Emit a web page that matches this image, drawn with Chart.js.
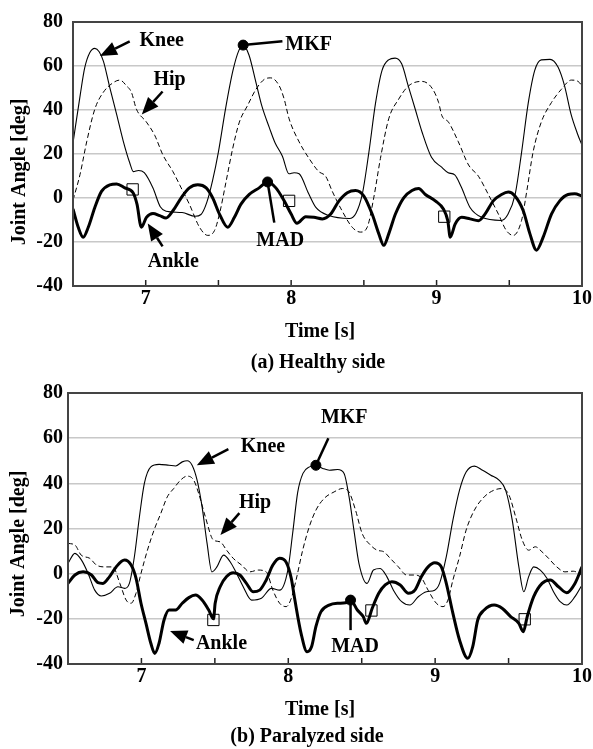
<!DOCTYPE html>
<html>
<head>
<meta charset="utf-8">
<script src="https://cdn.jsdelivr.net/npm/chart.js@4.4.1/dist/chart.umd.min.js"></script>
<style>
  html, body { margin: 0; padding: 0; background: #fff; }
  .box { position: absolute; left: 0; width: 593px; }
  #boxA { top: 0; height: 376px; }
  #boxB { top: 376px; height: 373px; }
</style>
</head>
<body>
<div class="box" id="boxA"><canvas id="chartA"></canvas></div>
<div class="box" id="boxB"><canvas id="chartB"></canvas></div>
<script>
// time [s], angle [deg] pairs
const aKnee = [[6.5,25],[6.55,47],[6.58,59],[6.615,66],[6.65,68],[6.68,66.5],[6.71,62],[6.75,51],[6.8,38],[6.845,26],[6.89,16],[6.915,12],[6.95,12.5],[6.99,11.5],[7.05,4.5],[7.1,-4],[7.14,-6],[7.25,-6.6],[7.34,-8.3],[7.38,-7.5],[7.42,-2],[7.46,8],[7.5,21],[7.55,41],[7.6,58],[7.64,67],[7.67,69.5],[7.71,65],[7.76,52],[7.8,41.5],[7.85,32],[7.89,25],[7.94,19],[7.985,11],[8.02,11.5],[8.055,11],[8.12,2],[8.17,-4.3],[8.26,-8],[8.4,-9.3],[8.445,-7],[8.49,2],[8.535,21],[8.58,43],[8.625,58],[8.67,62.8],[8.715,63.6],[8.76,61],[8.805,51],[8.855,40],[8.9,30],[8.965,18.5],[9.035,14],[9.08,11.5],[9.125,10.5],[9.17,5],[9.23,-4.3],[9.31,-8.8],[9.445,-10.2],[9.49,-7.5],[9.54,1.5],[9.585,21],[9.63,43],[9.675,58],[9.72,62.8],[9.78,63],[9.835,59.5],[9.88,51],[9.925,38],[9.97,29],[10,24]];
const aHip = [[6.5,-1],[6.548,10.6],[6.594,25.5],[6.65,40.4],[6.708,48],[6.776,52.4],[6.822,53.6],[6.868,51],[6.902,48],[6.936,40.4],[7.005,34.5],[7.062,28.5],[7.118,19.6],[7.187,12],[7.244,4.6],[7.3,-2.8],[7.37,-13.3],[7.427,-17],[7.473,-14.8],[7.507,-7.3],[7.553,7.6],[7.598,22.5],[7.644,34.5],[7.7,42],[7.758,49.4],[7.815,53.9],[7.86,54.6],[7.918,51],[7.952,45],[7.986,36],[8.055,25.5],[8.123,18],[8.19,12],[8.237,9.9],[8.283,3],[8.35,-5.8],[8.42,-13.3],[8.477,-15.5],[8.523,-13.3],[8.568,0.1],[8.614,18],[8.671,36],[8.74,45],[8.808,51],[8.9,53],[8.968,50],[9.014,43.4],[9.036,37.5],[9.082,34.5],[9.15,25.5],[9.22,15],[9.288,9.9],[9.356,1.6],[9.425,-7.3],[9.48,-14.8],[9.527,-17],[9.584,-10.3],[9.62,3],[9.664,21],[9.72,34.5],[9.79,43.4],[9.858,49.4],[9.927,53.6],[9.973,53],[10,51]];
const aAnkle = [[6.5,-5],[6.536,-13.3],[6.57,-17.8],[6.605,-13.3],[6.65,-4.3],[6.696,3],[6.753,6],[6.8,6.4],[6.856,4.6],[6.913,2.4],[6.94,-2.8],[6.97,-13.3],[7.005,-8.8],[7.05,-7],[7.096,-8],[7.14,-9.1],[7.187,-5.8],[7.244,0.1],[7.3,4.6],[7.358,6],[7.416,4.6],[7.46,0.1],[7.507,-7.3],[7.564,-13.3],[7.61,-8.8],[7.655,-2.8],[7.712,1.6],[7.78,4.6],[7.838,7.3],[7.895,4.6],[7.952,-1.3],[8.0,-7.3],[8.04,-11.5],[8.1,-8.5],[8.157,-8.8],[8.215,-9.5],[8.272,-7.3],[8.329,-1.3],[8.386,2.4],[8.443,3.4],[8.5,0.9],[8.557,-7.3],[8.603,-16.3],[8.637,-21.5],[8.671,-16.3],[8.717,-7.3],[8.774,0.1],[8.831,3.4],[8.877,4.3],[8.923,1.6],[8.991,-1.3],[9.048,-5.1],[9.077,-10.3],[9.094,-17.8],[9.128,-11.8],[9.173,-8.8],[9.23,-9.5],[9.288,-10.3],[9.333,-7.3],[9.39,-1.3],[9.447,1.6],[9.493,2.7],[9.539,0.9],[9.596,-5.8],[9.642,-16.3],[9.687,-23.7],[9.733,-17.8],[9.79,-7.3],[9.847,-1.3],[9.904,1.6],[9.95,1.9],[10,0.9]];
const aSquares = [[6.91,3.9],[7.986,-1.3],[9.053,-8.5]];
const aPeaks = [[7.67,69.5],[7.838,7.3]]; // MKF, MAD

const bKnee = [[6.5,4.6],[6.547,9],[6.592,6],[6.637,0.1],[6.682,-7.3],[6.727,-9.9],[6.783,-8.7],[6.84,-5.8],[6.885,-6.5],[6.918,-4.3],[6.952,7.5],[6.986,25],[7.02,40],[7.064,47.3],[7.12,48.4],[7.188,48],[7.233,47.7],[7.278,49.5],[7.312,50],[7.345,48],[7.379,41.4],[7.413,29.6],[7.447,13.4],[7.48,0.8],[7.514,3],[7.559,8.2],[7.604,5.3],[7.648,0.1],[7.693,-5.8],[7.75,-11.7],[7.817,-10.9],[7.885,-6.5],[7.941,-7.3],[7.997,1.6],[8.03,18],[8.064,36],[8.1,44.4],[8.145,47.3],[8.188,48],[8.235,46.6],[8.28,45.8],[8.336,46.1],[8.38,44.4],[8.414,34],[8.447,19.3],[8.481,4.6],[8.536,-4.3],[8.58,1.6],[8.626,2.3],[8.671,-1.3],[8.716,-7.3],[8.772,-12.4],[8.828,-13.9],[8.885,-10.2],[8.941,-8],[8.997,-7.3],[9.03,-4.3],[9.076,7.5],[9.121,23.7],[9.166,37],[9.211,45],[9.267,47.6],[9.323,45.8],[9.379,43.6],[9.435,41.4],[9.48,37],[9.525,23.7],[9.57,3],[9.604,-8],[9.637,-1.3],[9.671,3],[9.716,1.6],[9.761,-2],[9.806,-8],[9.851,-12.4],[9.896,-13.9],[9.952,-10.2],[10,-5]];
const bHip = [[6.5,13.4],[6.547,12.7],[6.59,8.2],[6.648,6.8],[6.694,3.8],[6.75,3],[6.805,3],[6.853,-4.3],[6.896,-11.7],[6.93,-13.1],[6.963,-8.7],[6.997,0.1],[7.041,10.4],[7.086,19.3],[7.132,26.7],[7.176,34],[7.22,37.7],[7.266,41.4],[7.311,43.2],[7.356,41.4],[7.39,35.5],[7.435,25.2],[7.49,14.9],[7.536,14.1],[7.58,10.4],[7.625,6.8],[7.682,3.8],[7.738,0.8],[7.795,1.6],[7.85,0.8],[7.895,-7.3],[7.941,-13.1],[7.986,-14.6],[8.02,-11],[8.053,-2.8],[8.098,10.4],[8.143,20.8],[8.188,28.1],[8.244,33.3],[8.312,36.2],[8.368,37.7],[8.413,36.2],[8.458,28.1],[8.503,17.8],[8.559,12.7],[8.605,10.4],[8.65,9.7],[8.694,6.8],[8.75,3],[8.806,-0.6],[8.862,-0.6],[8.908,-2],[8.952,-7.3],[9.008,-13.1],[9.054,-14.6],[9.087,-11.7],[9.121,-2.8],[9.166,7.5],[9.211,19.3],[9.267,28.1],[9.334,34],[9.402,37],[9.458,37.7],[9.503,34.8],[9.548,25.2],[9.593,14.9],[9.637,10.4],[9.682,11.9],[9.727,9.7],[9.772,6.8],[9.828,3],[9.884,0.8],[9.94,1.1],[10,-0.6]];
const bAnkle = [[6.5,-4.3],[6.547,-0.6],[6.603,0.8],[6.66,-0.6],[6.704,-4],[6.738,-4.3],[6.783,-1.3],[6.828,3],[6.885,6],[6.93,3.8],[6.963,-2],[6.997,-13.1],[7.031,-22],[7.064,-30.8],[7.091,-35.3],[7.12,-30.8],[7.154,-20.5],[7.188,-16.1],[7.233,-16.1],[7.278,-13.1],[7.323,-10.6],[7.368,-9.5],[7.413,-11.7],[7.458,-16.1],[7.491,-20],[7.502,-13.1],[7.536,-5.8],[7.58,-1.3],[7.625,0.4],[7.67,-0.6],[7.715,-4.3],[7.76,-8],[7.805,-7.3],[7.85,-2.8],[7.895,3.8],[7.941,6.8],[7.986,5],[8.02,-2],[8.045,-11.7],[8.087,-26.4],[8.128,-34.6],[8.159,-32.3],[8.188,-23.5],[8.222,-16.9],[8.278,-13.9],[8.334,-13.1],[8.39,-12.9],[8.424,-11.7],[8.47,-16.1],[8.51,-19],[8.532,-22],[8.571,-15.4],[8.616,-8.7],[8.66,-5],[8.705,-3.6],[8.762,-5],[8.818,-8.7],[8.862,-7.3],[8.907,-1.3],[8.952,3],[8.997,4.8],[9.042,3],[9.076,-4.3],[9.121,-17.6],[9.166,-29.4],[9.222,-37.5],[9.256,-32.3],[9.29,-20.5],[9.334,-16.1],[9.402,-13.9],[9.458,-15.4],[9.514,-19],[9.57,-22],[9.6,-25.7],[9.627,-19],[9.671,-10.2],[9.728,-4.3],[9.784,-2.8],[9.84,-5.8],[9.896,-8.4],[9.952,-4.3],[10,3]];
const bSquares = [[7.49,-20.5],[8.566,-16.3],[9.61,-20.2]];
const bPeaks = [[8.188,48],[8.424,-11.7]]; // MKF, MAD

const xTicks = [6.5, 7, 7.5, 8, 8.5, 9, 9.5, 10];
const yTicks = [-40, -20, 0, 20, 40, 60, 80];

const FONT = '"Liberation Serif", "Times New Roman", serif';
Chart.defaults.font.family = FONT;
Chart.defaults.color = '#000';

function pts(arr) {
    return arr.map(p => ({ x: p[0], y: p[1] }));
}

function arrow(ctx, x0, y0, x1, y1) {
    const ang = Math.atan2(y1 - y0, x1 - x0);
    const head = 17, half = 7;
    const bx = x1 - head * Math.cos(ang), by = y1 - head * Math.sin(ang);
    ctx.lineWidth = 2.5;
    ctx.beginPath();
    ctx.moveTo(x0, y0);
    ctx.lineTo(bx, by);
    ctx.stroke();
    ctx.beginPath();
    ctx.moveTo(x1, y1);
    ctx.lineTo(bx + half * Math.sin(ang), by - half * Math.cos(ang));
    ctx.lineTo(bx - half * Math.sin(ang), by + half * Math.cos(ang));
    ctx.closePath();
    ctx.fill();
}

// box, inner ticks, arrows, labels, titles
const notes = {
    id: 'notes',
    afterDatasetsDraw(chart, args, opts) {
        const { ctx, chartArea: a, scales: { x, y } } = chart;
        ctx.save();
        ctx.strokeStyle = '#222';
        ctx.fillStyle = '#000';
        ctx.lineWidth = 1.5;
        xTicks.forEach(t => {
            const px = x.getPixelForValue(t);
            ctx.beginPath();
            ctx.moveTo(px, a.bottom);
            ctx.lineTo(px, a.bottom - 6);
            ctx.stroke();
        });
        ctx.strokeStyle = '#444';
        ctx.lineWidth = 2;
        ctx.strokeRect(a.left, a.top, a.right - a.left, a.bottom - a.top);

        ctx.strokeStyle = '#000';
        ctx.font = 'bold 20px ' + FONT;
        ctx.textAlign = 'center';
        ctx.textBaseline = 'middle';
        opts.arrows.forEach(n => {
            arrow(ctx, x.getPixelForValue(n.from[0]), y.getPixelForValue(n.from[1]),
                x.getPixelForValue(n.to[0]), y.getPixelForValue(n.to[1]));
            ctx.fillText(n.label, x.getPixelForValue(n.text[0]), y.getPixelForValue(n.text[1]));
        });
        opts.pins.forEach(n => {
            const d = opts.peaks[n.peak];
            ctx.lineWidth = 2.5;
            ctx.beginPath();
            ctx.moveTo(x.getPixelForValue(d[0]), y.getPixelForValue(d[1]));
            ctx.lineTo(x.getPixelForValue(n.end[0]), y.getPixelForValue(n.end[1]));
            ctx.stroke();
            ctx.fillText(n.label, x.getPixelForValue(n.text[0]), y.getPixelForValue(n.text[1]));
        });

        ctx.fillText('Time [s]', opts.xTitle[0], opts.xTitle[1]);
        ctx.fillText(opts.caption, opts.capPos[0], opts.capPos[1]);
        ctx.translate(opts.yTitle[0], opts.yTitle[1]);
        ctx.rotate(-Math.PI / 2);
        ctx.fillText('Joint Angle [deg]', 0, 0);
        ctx.restore();
    }
};

function makeChart(id, knee, hip, ankle, squares, peaks, setup) {
    new Chart(document.getElementById(id), {
        type: 'line',
        data: {
            datasets: [
                { type: 'scatter', data: pts(peaks), pointStyle: 'circle', pointRadius: 5,
                  backgroundColor: '#000', borderColor: '#000', order: 0 },
                { type: 'scatter', data: pts(squares), pointStyle: 'rect', pointRadius: 8,
                  backgroundColor: 'rgba(0,0,0,0)', borderColor: '#000', borderWidth: 1, order: 1 },
                { label: 'Ankle', data: pts(ankle), borderColor: '#000', borderWidth: 3,
                  pointRadius: 0, cubicInterpolationMode: 'monotone', order: 2 },
                { label: 'Knee', data: pts(knee), borderColor: '#000', borderWidth: 1.1,
                  pointRadius: 0, cubicInterpolationMode: 'monotone', order: 3 },
                { label: 'Hip', data: pts(hip), borderColor: '#000', borderWidth: 1,
                  borderDash: [5, 3], pointRadius: 0, cubicInterpolationMode: 'monotone', order: 4 }
            ]
        },
        options: {
            responsive: true,
            maintainAspectRatio: false,
            animation: false,
            layout: { padding: setup.padding },
            plugins: {
                legend: { display: false },
                tooltip: { enabled: false },
                notes: setup.notes
            },
            scales: {
                x: {
                    type: 'linear', min: 6.5, max: 10,
                    afterBuildTicks: s => { s.ticks = xTicks.map(v => ({ value: v })); },
                    afterFit: s => { s.height = setup.xHeight; },
                    grid: { display: false, drawTicks: false },
                    border: { display: false },
                    ticks: {
                        autoSkip: false, maxRotation: 0, padding: 1,
                        font: { size: 20, weight: 'bold' },
                        callback: v => Number.isInteger(v) ? String(v) : ''
                    }
                },
                y: {
                    min: -40, max: 80,
                    afterBuildTicks: s => { s.ticks = yTicks.map(v => ({ value: v })); },
                    afterFit: s => { s.width = setup.yWidth; },
                    grid: { color: '#c8c8c8', lineWidth: 1.5, drawTicks: false },
                    border: { display: false },
                    ticks: { padding: setup.yPad, font: { size: 20, weight: 'bold' } }
                }
            }
        },
        plugins: [notes]
    });
}

makeChart('chartA', aKnee, aHip, aAnkle, aSquares, aPeaks, {
    padding: { top: 18, right: 9, left: 0, bottom: 0 },
    xHeight: 90, yWidth: 73, yPad: 10,
    notes: {
        peaks: aPeaks,
        arrows: [
            { label: 'Knee', text: [7.11, 71.6], from: [6.89, 71.2], to: [6.685, 64.5] },
            { label: 'Hip', text: [7.164, 53.7], from: [7.116, 48.4], to: [6.973, 38] },
            { label: 'Ankle', text: [7.19, -29], from: [7.116, -22], to: [7.014, -11.6] }
        ],
        pins: [
            { label: 'MKF', peak: 0, end: [7.94, 71.2], text: [8.12, 69.4] },
            { label: 'MAD', peak: 1, end: [7.884, -11.2], text: [7.925, -19.3] }
        ],
        xTitle: [320, 332], caption: '(a) Healthy side', capPos: [318, 363], yTitle: [20, 172]
    }
});

makeChart('chartB', bKnee, bHip, bAnkle, bSquares, bPeaks, {
    padding: { top: 17, right: 6, left: 0, bottom: 0 },
    xHeight: 85, yWidth: 68, yPad: 5,
    notes: {
        peaks: bPeaks,
        arrows: [
            { label: 'Knee', text: [7.828, 56], from: [7.592, 55.1], to: [7.377, 48] },
            { label: 'Hip', text: [7.774, 31.2], from: [7.667, 26.8], to: [7.538, 17.1] },
            { label: 'Ankle', text: [7.545, -31.2], from: [7.356, -29.4], to: [7.195, -25.4] }
        ],
        pins: [
            { label: 'MKF', peak: 0, end: [8.273, 60], text: [8.381, 68.9] },
            { label: 'MAD', peak: 1, end: [8.424, -25], text: [8.455, -32.5] }
        ],
        xTitle: [320, 334], caption: '(b) Paralyzed side', capPos: [307, 361], yTitle: [19, 168]
    }
});
</script>
</body>
</html>
